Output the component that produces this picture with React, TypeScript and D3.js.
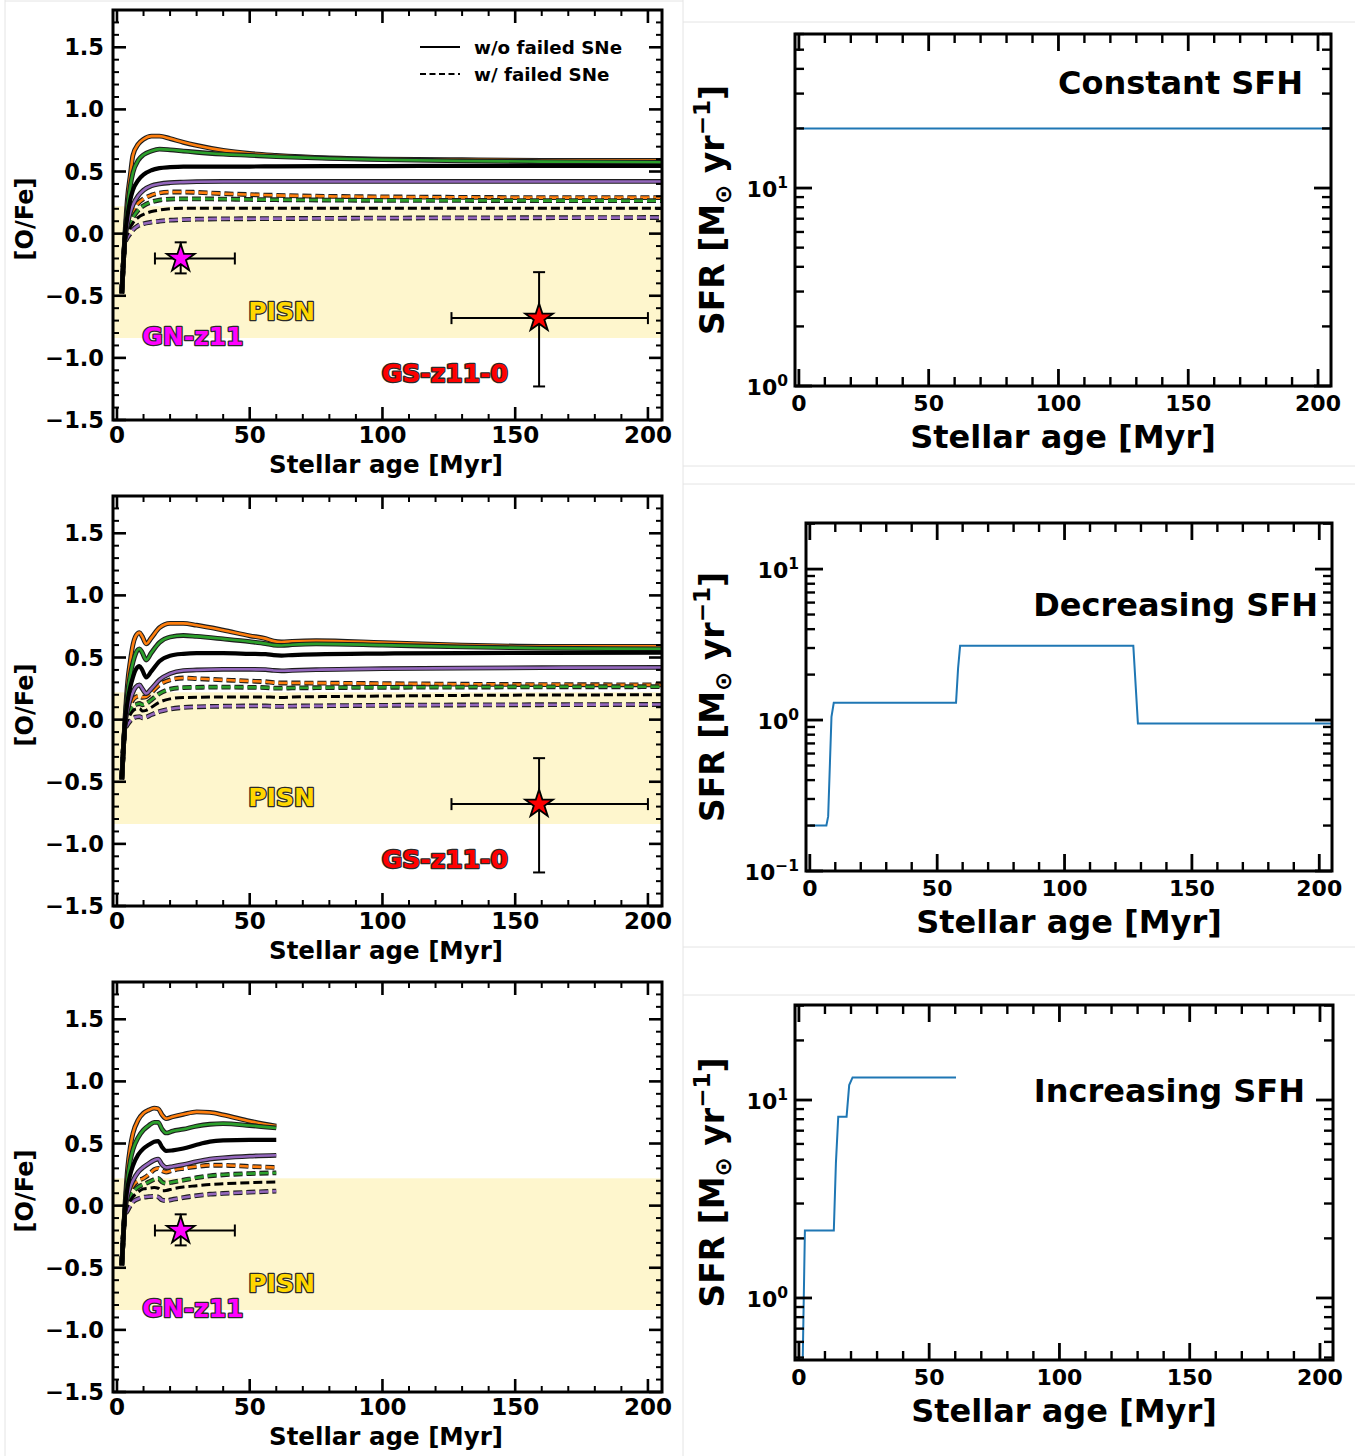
import React from 'react';
import * as d3 from 'd3';

// ---------------- DATA ----------------
const SERIES_COLORS = ['#ff7f0e', '#2ca02c', '#9467bd', '#000000'];

// Panel 1 (constant SFH)
const T1 = [1.8, 2.5, 3, 4, 5, 6, 8, 10, 13, 16, 20, 25, 30, 40, 50, 60, 80, 100, 130, 160, 205];
const P1_SOLID = [
  [-0.48, -0.2, 0.0, 0.3, 0.47, 0.63, 0.72, 0.76, 0.785, 0.785, 0.765, 0.735, 0.71, 0.67, 0.645, 0.63, 0.61, 0.6, 0.595, 0.59, 0.59],
  [-0.48, -0.2, -0.02, 0.22, 0.38, 0.49, 0.59, 0.635, 0.665, 0.68, 0.675, 0.665, 0.655, 0.64, 0.63, 0.62, 0.605, 0.595, 0.585, 0.58, 0.575],
  [-0.48, -0.2, -0.05, 0.08, 0.17, 0.23, 0.305, 0.35, 0.385, 0.4, 0.41, 0.415, 0.418, 0.42, 0.42, 0.42, 0.42, 0.42, 0.42, 0.42, 0.42],
  [-0.48, -0.2, -0.03, 0.15, 0.27, 0.35, 0.43, 0.475, 0.51, 0.527, 0.535, 0.54, 0.54, 0.54, 0.54, 0.542, 0.543, 0.544, 0.545, 0.545, 0.545],
];
const P1_DASHED = [
  [-0.48, -0.2, -0.05, 0.06, 0.13, 0.18, 0.245, 0.28, 0.31, 0.327, 0.335, 0.335, 0.332, 0.322, 0.314, 0.308, 0.3, 0.296, 0.292, 0.29, 0.29],
  [-0.48, -0.2, -0.06, 0.03, 0.09, 0.13, 0.19, 0.225, 0.255, 0.27, 0.278, 0.28, 0.28, 0.278, 0.275, 0.273, 0.27, 0.268, 0.267, 0.266, 0.265],
  [-0.48, -0.2, -0.08, -0.03, 0.0, 0.03, 0.065, 0.08, 0.092, 0.1, 0.108, 0.113, 0.116, 0.119, 0.12, 0.121, 0.123, 0.125, 0.127, 0.128, 0.13],
  [-0.48, -0.2, -0.07, 0.0, 0.05, 0.085, 0.13, 0.155, 0.178, 0.19, 0.2, 0.204, 0.205, 0.205, 0.205, 0.205, 0.205, 0.205, 0.205, 0.205, 0.205],
];

// Panel 2 (decreasing SFH)
const T2 = [1.8, 2.5, 3, 4, 5, 6, 7, 8.5, 9.5, 11, 13, 16, 20, 25, 30, 40, 50, 56, 59, 62, 66, 75, 100, 130, 160, 205];
const P2_SOLID = [
  [-0.48, -0.2, 0.0, 0.3, 0.47, 0.6, 0.67, 0.7, 0.67, 0.61, 0.66, 0.74, 0.775, 0.775, 0.76, 0.72, 0.675, 0.652, 0.632, 0.625, 0.63, 0.635, 0.62, 0.6, 0.59, 0.59],
  [-0.48, -0.2, -0.02, 0.22, 0.36, 0.46, 0.53, 0.57, 0.54, 0.48, 0.54, 0.62, 0.665, 0.677, 0.67, 0.65, 0.628, 0.612, 0.6, 0.597, 0.603, 0.61, 0.6, 0.585, 0.575, 0.57],
  [-0.48, -0.2, -0.05, 0.08, 0.16, 0.22, 0.26, 0.28, 0.25, 0.21, 0.25, 0.32, 0.37, 0.395, 0.4, 0.405, 0.405, 0.403, 0.396, 0.393, 0.396, 0.402, 0.41, 0.415, 0.418, 0.42],
  [-0.48, -0.2, -0.03, 0.15, 0.26, 0.34, 0.4, 0.43, 0.4, 0.34, 0.39, 0.47, 0.515, 0.53, 0.535, 0.535, 0.53, 0.527, 0.519, 0.516, 0.52, 0.526, 0.532, 0.536, 0.538, 0.54],
];
const P2_DASHED = [
  [-0.48, -0.2, -0.05, 0.06, 0.12, 0.16, 0.18, 0.19, 0.18, 0.185, 0.22, 0.28, 0.32, 0.335, 0.33, 0.32, 0.31, 0.305, 0.298, 0.295, 0.295, 0.294, 0.29, 0.285, 0.282, 0.28],
  [-0.48, -0.2, -0.06, 0.03, 0.08, 0.11, 0.12, 0.13, 0.12, 0.13, 0.16, 0.21, 0.245, 0.258, 0.26, 0.262, 0.26, 0.258, 0.254, 0.253, 0.255, 0.257, 0.26, 0.262, 0.264, 0.265],
  [-0.48, -0.2, -0.08, -0.04, -0.01, 0.01, 0.02, 0.025, 0.015, 0.02, 0.04, 0.065, 0.085, 0.098, 0.103, 0.108, 0.11, 0.11, 0.107, 0.107, 0.109, 0.111, 0.115, 0.118, 0.12, 0.122],
  [-0.48, -0.2, -0.07, 0.0, 0.04, 0.07, 0.085, 0.09, 0.07, 0.075, 0.1, 0.14, 0.167, 0.178, 0.18, 0.182, 0.183, 0.183, 0.18, 0.179, 0.182, 0.185, 0.19, 0.195, 0.198, 0.2],
];

// Panel 3 (increasing SFH)
const T3 = [1.8, 2.5, 3, 4, 5, 6, 8, 10, 12, 14, 15.5, 17, 18.5, 21, 25, 30, 35, 40, 50, 60];
const P3_SOLID = [
  [-0.48, -0.2, 0.0, 0.3, 0.47, 0.58, 0.69, 0.745, 0.77, 0.785, 0.78, 0.73, 0.7, 0.715, 0.735, 0.755, 0.75, 0.73, 0.68, 0.64],
  [-0.48, -0.2, -0.02, 0.22, 0.36, 0.45, 0.55, 0.61, 0.645, 0.67, 0.67, 0.615, 0.585, 0.6, 0.615, 0.64, 0.655, 0.66, 0.645, 0.625],
  [-0.48, -0.2, -0.05, 0.08, 0.15, 0.2, 0.27, 0.31, 0.34, 0.365, 0.375, 0.33, 0.307, 0.315, 0.33, 0.355, 0.375, 0.385, 0.398, 0.405],
  [-0.48, -0.2, -0.03, 0.15, 0.25, 0.32, 0.41, 0.46, 0.49, 0.515, 0.52, 0.47, 0.44, 0.445, 0.46, 0.49, 0.515, 0.525, 0.53, 0.53],
];
const P3_DASHED = [
  [-0.48, -0.2, -0.05, 0.06, 0.12, 0.16, 0.2, 0.22, 0.25, 0.29, 0.3, 0.28, 0.27, 0.285, 0.3, 0.315, 0.325, 0.325, 0.315, 0.307],
  [-0.48, -0.2, -0.06, 0.03, 0.08, 0.11, 0.15, 0.17, 0.19, 0.21, 0.22, 0.19, 0.18, 0.19, 0.205, 0.225, 0.24, 0.248, 0.258, 0.264],
  [-0.48, -0.2, -0.08, -0.04, 0.0, 0.03, 0.055, 0.068, 0.072, 0.075, 0.07, 0.045, 0.04, 0.05, 0.065, 0.08, 0.092, 0.098, 0.108, 0.117],
  [-0.48, -0.2, -0.07, 0.0, 0.04, 0.07, 0.11, 0.135, 0.14, 0.145, 0.14, 0.12, 0.122, 0.135, 0.15, 0.16, 0.17, 0.176, 0.185, 0.19],
];

// Observations
const GN = { name: 'GN-z11', t: 24, tLo: 14.3, tHi: 44.4, v: -0.2, vLo: -0.32, vHi: -0.07, color: '#ff00ff', lt: 28.6, lv: -0.82 };
const GS = { name: 'GS-z11-0', t: 159, tLo: 126, tHi: 200, v: -0.68, vLo: -1.23, vHi: -0.31, color: '#ff0000', lt: 123.5, lv: -1.12 };
const PISN = { lo: -0.84, hi: 0.22, lt: 62, lv: -0.62 };

// SFH
const SFR1_T = [0, 210];
const SFR1_V = [20, 20];
const SFR2_T = [0, 6.5, 7.2, 8.5, 9.4, 57.4, 58.2, 59, 127, 128.8, 210];
const SFR2_V = [0.2, 0.2, 0.23, 1.05, 1.3, 1.3, 2.2, 3.1, 3.1, 0.95, 0.95];
const SFR3_T = [1.2, 2.3, 13.4, 14.2, 15.1, 18.3, 19.3, 20.6, 60.3];
const SFR3_V = [0.3, 2.19, 2.19, 4.8, 8.24, 8.24, 11.9, 13.0, 13.0];

const X_MAJOR = [0, 50, 100, 150, 200];
const OFE_MAJOR = [-1.5, -1.0, -0.5, 0.0, 0.5, 1.0, 1.5];

const FONT = "'DejaVu Sans', sans-serif";

// ---------------- HELPERS ----------------
function fmtOFe(v: number) {
  const s = v.toFixed(1);
  return v < 0 ? '\u2212' + s.slice(1) : s;
}

function Curve({ x, y, times, vals, color, dashed }: any) {
  const line = d3.line<number>().x((_, i) => x(times[i])).y((v) => y(v)).curve(d3.curveMonotoneX);
  const d = line(vals) || '';
  const dash = dashed ? '9,4' : undefined;
  if (color === '#000000') {
    return <path d={d} fill="none" stroke="#000" strokeWidth={dashed ? 3 : 4.2} strokeDasharray={dash} strokeLinejoin="round" />;
  }
  return (
    <g>
      <path d={d} fill="none" stroke="#1e1e1e" strokeWidth={4.8} strokeDasharray={dash} strokeLinejoin="round" />
      <path d={d} fill="none" stroke={color} strokeWidth={2.6} strokeDasharray={dash} strokeLinejoin="round" />
    </g>
  );
}

function Obs({ x, y, o }: any) {
  const star = d3.symbol().type(d3.symbolStar).size(240)() || '';
  const cx = x(o.t), cy = y(o.v);
  return (
    <g>
      <line x1={x(o.tLo)} x2={x(o.tHi)} y1={cy} y2={cy} stroke="#000" strokeWidth={2} />
      <line x1={cx} x2={cx} y1={y(o.vLo)} y2={y(o.vHi)} stroke="#000" strokeWidth={2} />
      {[o.tLo, o.tHi].map((t: number, i: number) => (
        <line key={'cx' + i} x1={x(t)} x2={x(t)} y1={cy - 6} y2={cy + 6} stroke="#000" strokeWidth={2} />
      ))}
      {[o.vLo, o.vHi].map((v: number, i: number) => (
        <line key={'cy' + i} x1={cx - 6} x2={cx + 6} y1={y(v)} y2={y(v)} stroke="#000" strokeWidth={2} />
      ))}
      <path d={star} transform={`translate(${cx},${cy})`} fill={o.color} stroke="#000" strokeWidth={1.8} strokeLinejoin="miter" />
    </g>
  );
}

function OutlinedLabel({ x, y, text, color }: any) {
  return (
    <text x={x} y={y} dy="0.36em" textAnchor="middle" fontFamily={FONT} fontWeight="bold" fontSize={25}
      fill={color} stroke="#2a2a2a" strokeWidth={2.6} strokeLinejoin="round" style={{ paintOrder: 'stroke' } as any}>
      {text}
    </text>
  );
}

function LeftPanel({ top, id, times, solid, dashed, showGN, showGS, showLegend }: any) {
  const x0 = 113, x1 = 662, y0 = top + 10, y1 = top + 420;
  const x = d3.scaleLinear().domain([-1.5, 205.3]).range([x0, x1]);
  const y = d3.scaleLinear().domain([-1.5, 1.8]).range([y1, y0]);
  const xMinor = d3.range(0, 206, 10).filter((t) => t % 50 !== 0);
  const yMinor = d3.range(-15, 19, 1).map((v) => v / 10).filter((v) => Math.abs(Math.round(v * 10) % 5) !== 0);
  const clip = 'clipL' + id;
  const tk = { stroke: '#000' };
  return (
    <g>
      <defs>
        <clipPath id={clip}><rect x={x0} y={y0} width={x1 - x0} height={y1 - y0} /></clipPath>
      </defs>
      <g clipPath={`url(#${clip})`}>
        <rect x={x0} y={y(PISN.hi)} width={x1 - x0} height={y(PISN.lo) - y(PISN.hi)} fill="#fef6cd" />
        {dashed.map((vals: number[], i: number) => (
          <Curve key={'d' + i} x={x} y={y} times={times} vals={vals} color={SERIES_COLORS[i]} dashed />
        ))}
        {solid.map((vals: number[], i: number) => (
          <Curve key={'s' + i} x={x} y={y} times={times} vals={vals} color={SERIES_COLORS[i]} />
        ))}
      </g>
      <OutlinedLabel x={x(PISN.lt)} y={y(PISN.lv)} text="PISN" color="#ffd700" />
      {showGN && <OutlinedLabel x={x(GN.lt)} y={y(GN.lv)} text={GN.name} color={GN.color} />}
      {showGS && <OutlinedLabel x={x(GS.lt)} y={y(GS.lv)} text={GS.name} color={GS.color} />}
      {showGN && <Obs x={x} y={y} o={GN} />}
      {showGS && <Obs x={x} y={y} o={GS} />}
      {/* ticks */}
      {X_MAJOR.map((t) => (
        <g key={'xm' + t}>
          <line x1={x(t)} x2={x(t)} y1={y1} y2={y1 - 13} {...tk} strokeWidth={2.6} />
          <line x1={x(t)} x2={x(t)} y1={y0} y2={y0 + 13} {...tk} strokeWidth={2.6} />
          <text x={x(t)} y={y1 + 23} textAnchor="middle" fontFamily={FONT} fontWeight="bold" fontSize={23}>{t}</text>
        </g>
      ))}
      {xMinor.map((t) => (
        <g key={'xn' + t}>
          <line x1={x(t)} x2={x(t)} y1={y1} y2={y1 - 6} {...tk} strokeWidth={2} />
          <line x1={x(t)} x2={x(t)} y1={y0} y2={y0 + 6} {...tk} strokeWidth={2} />
        </g>
      ))}
      {OFE_MAJOR.map((v) => (
        <g key={'ym' + v}>
          <line x1={x0} x2={x0 + 13} y1={y(v)} y2={y(v)} {...tk} strokeWidth={2.6} />
          <line x1={x1} x2={x1 - 13} y1={y(v)} y2={y(v)} {...tk} strokeWidth={2.6} />
          <text x={104} y={y(v) + 8} textAnchor="end" fontFamily={FONT} fontWeight="bold" fontSize={22.5}>{fmtOFe(v)}</text>
        </g>
      ))}
      {yMinor.map((v) => (
        <g key={'yn' + v}>
          <line x1={x0} x2={x0 + 6} y1={y(v)} y2={y(v)} {...tk} strokeWidth={2} />
          <line x1={x1} x2={x1 - 6} y1={y(v)} y2={y(v)} {...tk} strokeWidth={2} />
        </g>
      ))}
      <rect x={x0} y={y0} width={x1 - x0} height={y1 - y0} fill="none" stroke="#000" strokeWidth={3} />
      <text x={386} y={top + 473} textAnchor="middle" fontFamily={FONT} fontWeight="bold" fontSize={24.5}>Stellar age [Myr]</text>
      <text transform={`translate(33,${(y0 + y1) / 2 + 4}) rotate(-90)`} textAnchor="middle" fontFamily={FONT} fontWeight="bold" fontSize={24}>[O/Fe]</text>
      {showLegend && (
        <g fontFamily={FONT} fontWeight="bold" fontSize={18.3}>
          <line x1={420} x2={460} y1={top + 47} y2={top + 47} stroke="#000" strokeWidth={2} />
          <line x1={420} x2={460} y1={top + 74} y2={top + 74} stroke="#000" strokeWidth={2} strokeDasharray="6,3.5" />
          <text x={474} y={top + 54}>w/o failed SNe</text>
          <text x={474} y={top + 81}>w/ failed SNe</text>
        </g>
      )}
    </g>
  );
}

function supLabel(exp: number) {
  return exp < 0 ? '\u2212' + Math.abs(exp) : String(exp);
}

function RightPanel({ id, x0, x1, y0, y1, yDom, times, vals, title, titleX, titleY }: any) {
  const x = d3.scaleLinear().domain([-1.5, 205]).range([x0, x1]);
  const y = d3.scaleLog().domain(yDom).range([y1, y0]);
  const xMinor = d3.range(0, 206, 10).filter((t) => t % 50 !== 0);
  const majors: number[] = [];
  const minors: number[] = [];
  for (let e = -2; e <= 2; e++) {
    const b = Math.pow(10, e);
    if (b >= yDom[0] * 0.999 && b <= yDom[1]) majors.push(e);
    for (let k = 2; k <= 9; k++) {
      const v = k * b;
      if (v >= yDom[0] && v <= yDom[1]) minors.push(v);
    }
  }
  const line = d3.line<number>().x((_, i) => x(times[i])).y((v) => y(v));
  const clip = 'clipR' + id;
  const cy = (y0 + y1) / 2;
  return (
    <g>
      <defs>
        <clipPath id={clip}><rect x={x0} y={y0} width={x1 - x0} height={y1 - y0} /></clipPath>
      </defs>
      <g clipPath={`url(#${clip})`}>
        <path d={line(vals) || ''} fill="none" stroke="#1f77b4" strokeWidth={2} />
      </g>
      {X_MAJOR.map((t) => (
        <g key={'xm' + t}>
          <line x1={x(t)} x2={x(t)} y1={y1} y2={y1 - 17} stroke="#000" strokeWidth={2.8} />
          <line x1={x(t)} x2={x(t)} y1={y0} y2={y0 + 17} stroke="#000" strokeWidth={2.8} />
          <text x={x(t)} y={y1 + 25} textAnchor="middle" fontFamily={FONT} fontWeight="bold" fontSize={22}>{t}</text>
        </g>
      ))}
      {xMinor.map((t) => (
        <g key={'xn' + t}>
          <line x1={x(t)} x2={x(t)} y1={y1} y2={y1 - 9} stroke="#000" strokeWidth={2.4} />
          <line x1={x(t)} x2={x(t)} y1={y0} y2={y0 + 9} stroke="#000" strokeWidth={2.4} />
        </g>
      ))}
      {majors.map((e) => {
        const py = y(Math.pow(10, e));
        return (
          <g key={'ym' + e}>
            <line x1={x0} x2={x0 + 17} y1={py} y2={py} stroke="#000" strokeWidth={2.8} />
            <line x1={x1} x2={x1 - 17} y1={py} y2={py} stroke="#000" strokeWidth={2.8} />
            <text x={x0 - 7} y={py + 9} textAnchor="end" fontFamily={FONT} fontWeight="bold" fontSize={22}>
              10<tspan dy={-9} fontSize={15.5}>{supLabel(e)}</tspan>
            </text>
          </g>
        );
      })}
      {minors.map((v) => (
        <g key={'yn' + v}>
          <line x1={x0} x2={x0 + 9} y1={y(v)} y2={y(v)} stroke="#000" strokeWidth={2.4} />
          <line x1={x1} x2={x1 - 9} y1={y(v)} y2={y(v)} stroke="#000" strokeWidth={2.4} />
        </g>
      ))}
      <rect x={x0} y={y0} width={x1 - x0} height={y1 - y0} fill="none" stroke="#000" strokeWidth={3} />
      <text x={titleX} y={titleY + 12} textAnchor="end" fontFamily={FONT} fontWeight="bold" fontSize={32}>{title}</text>
      <text x={(x0 + x1) / 2} y={y1 + 62} textAnchor="middle" fontFamily={FONT} fontWeight="bold" fontSize={32}>Stellar age [Myr]</text>
      <text transform={`translate(724,${cy}) rotate(-90)`} textAnchor="middle" fontFamily={FONT} fontWeight="bold" fontSize={33}>
        SFR [M<tspan dy={7} fontSize={23}>{'\u2299'}</tspan><tspan dy={-7}> yr</tspan><tspan dy={-14} fontSize={23}>{'\u22121'}</tspan><tspan dy={14}>]</tspan>
      </text>
    </g>
  );
}

export default function App() {
  const W = 1367, H = 1456;
  const faint = '#e4e4e4';
  return (
    <svg width={W} height={H} viewBox={`0 0 ${W} ${H}`} style={{ position: 'absolute', left: 0, top: 0, background: '#fff' }}>
      <rect x={0} y={0} width={W} height={H} fill="#fff" />
      {/* faint frames of the composed figure */}
      <line x1={5} x2={5} y1={0} y2={H} stroke={faint} strokeWidth={1} />
      <line x1={5} x2={683} y1={1} y2={1} stroke={faint} strokeWidth={1} />
      <line x1={683} x2={683} y1={0} y2={H} stroke={faint} strokeWidth={1} />
      {[22, 466, 484, 947, 995].map((yy) => (
        <line key={'f' + yy} x1={683} x2={1355} y1={yy} y2={yy} stroke={faint} strokeWidth={1} />
      ))}
      <LeftPanel top={0} id="1" times={T1} solid={P1_SOLID} dashed={P1_DASHED} showGN showGS showLegend />
      <LeftPanel top={486} id="2" times={T2} solid={P2_SOLID} dashed={P2_DASHED} showGS />
      <LeftPanel top={972} id="3" times={T3} solid={P3_SOLID} dashed={P3_DASHED} showGN />
      <RightPanel id="1" x0={795} x1={1331} y0={34} y1={386} yDom={[1, 60]} times={SFR1_T} vals={SFR1_V}
        title="Constant SFH" titleX={1303} titleY={82} />
      <RightPanel id="2" x0={806} x1={1332} y0={523} y1={871} yDom={[0.1, 20.2]} times={SFR2_T} vals={SFR2_V}
        title="Decreasing SFH" titleX={1318} titleY={604} />
      <RightPanel id="3" x0={795} x1={1333} y0={1005} y1={1360} yDom={[0.486, 30.2]} times={SFR3_T} vals={SFR3_V}
        title="Increasing SFH" titleX={1305} titleY={1090} />
    </svg>
  );
}
